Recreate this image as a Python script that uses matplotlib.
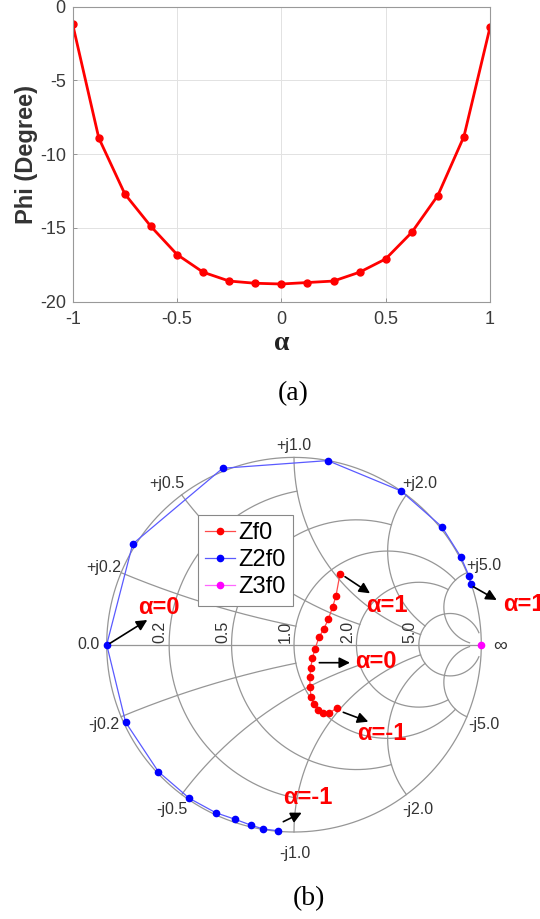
import numpy as np
import matplotlib
matplotlib.use('Agg')
import matplotlib.pyplot as plt

plt.rcParams['font.family'] = ['Liberation Sans', 'DejaVu Sans']
plt.rcParams['axes.unicode_minus'] = False

# ---------------- data ----------------
alpha = [-1, -0.875, -0.75, -0.625, -0.5, -0.375, -0.25, -0.125, 0,
         0.125, 0.25, 0.375, 0.5, 0.625, 0.75, 0.875, 1]
phi = [-1.2, -8.9, -12.7, -14.9, -16.8, -18.0, -18.6, -18.75, -18.8,
       -18.7, -18.6, -18.0, -17.1, -15.3, -12.8, -8.8, -1.4]

x_ticks = [-1, -0.5, 0, 0.5, 1]
x_ticklabels = ['-1', '-0.5', '0', '0.5', '1']
y_ticks = [-20, -15, -10, -5, 0]
y_ticklabels = ['-20', '-15', '-10', '-5', '0']

# reflection coefficients on the Smith chart (alpha = -1 ... 1)
zf0_re = [0.228, 0.187, 0.156, 0.130, 0.107, 0.091, 0.085, 0.085, 0.089,
          0.098, 0.112, 0.133, 0.160, 0.183, 0.206, 0.224, 0.245]
zf0_im = [-0.337, -0.367, -0.367, -0.349, -0.319, -0.278, -0.228, -0.171, -0.123,
          -0.073, -0.023, 0.039, 0.086, 0.136, 0.200, 0.260, 0.375]
z2f0_re = [-0.087, -0.164, -0.231, -0.315, -0.418, -0.559, -0.724, -0.899, -1.0,
           -0.861, -0.381, 0.180, 0.571, 0.789, 0.890, 0.934, 0.945]
z2f0_im = [-0.993, -0.984, -0.963, -0.932, -0.897, -0.820, -0.678, -0.414, 0.0,
           0.538, 0.942, 0.983, 0.821, 0.630, 0.470, 0.368, 0.322]
z3f0_re = [1.0]
z3f0_im = [0.0]

grid_values = [0.2, 0.5, 1.0, 2.0, 5.0]
grid_limits = [1.0, 2.0, 5.0, 5.0, 30.0]
r_labels = ['0.2', '0.5', '1.0', '2.0', '5.0']
x_labels_pos = ['+j0.2', '+j0.5', '+j1.0', '+j2.0', '+j5.0']
x_labels_neg = ['-j0.2', '-j0.5', '-j1.0', '-j2.0', '-j5.0']

# ---------------- figure ----------------
W, H = 540, 919
fig = plt.figure(figsize=(W / 100, H / 100), dpi=100)

# ---- (a) ----
ax1 = fig.add_axes([72.7 / W, 1 - 301.7 / H, 417.3 / W, 295 / H])
ax1.plot(alpha, phi, '-o', color='red', lw=2, ms=5, mec='red', mfc='red')
ax1.set_xlim(-1, 1)
ax1.set_ylim(-20, 0)
ax1.set_xticks(x_ticks)
ax1.set_xticklabels(x_ticklabels)
ax1.set_yticks(y_ticks)
ax1.set_yticklabels(y_ticklabels)
ax1.tick_params(direction='in', length=3, width=0.6, labelsize=13,
                colors='#888888', labelcolor='#3a3a3a')
ax1.tick_params(axis='x', pad=7)
ax1.tick_params(axis='y', pad=5)
ax1.grid(True, color='#e2e2e2', lw=0.7)
ax1.set_axisbelow(True)
for s in ax1.spines.values():
    s.set_color('#999999')
    s.set_linewidth(0.8)
ax1.set_ylabel('Phi (Degree)', fontsize=17, fontweight='bold', color='#333333', labelpad=1)
ax1.set_xlabel('α', fontsize=20, fontweight='bold', family=['Liberation Serif', 'DejaVu Serif'],
               color='#222222', labelpad=2)
fig.text(293 / W, 1 - 394 / H, '(a)', ha='center', va='center', fontsize=20,
         family=['Liberation Serif', 'DejaVu Serif'])

# ---- (b) Smith chart ----
cx, cy, R = 294.0, 644.7, 187.3
top_px = 430.0
ax2 = fig.add_axes([0, 0, 1, (H - top_px) / H])
ax2.set_xlim((0 - cx) / R, (W - cx) / R)
ax2.set_ylim((cy - H) / R, (cy - top_px) / R)
ax2.axis('off')

gcol = '#969696'
glw = 0.9

def gamma(z):
    return (z - 1) / (z + 1)

# outer circle and real axis
t = np.linspace(0, 2 * np.pi, 800)
ax2.plot(np.cos(t), np.sin(t), color=gcol, lw=glw, zorder=1)
ax2.plot([-1, 1], [0, 0], color=gcol, lw=glw, zorder=1)

for v, lim in zip(grid_values, grid_limits):
    # resistance circle r = v, |x| <= lim
    xs = np.linspace(-lim, lim, 3000)
    g = gamma(v + 1j * xs)
    ax2.plot(g.real, g.imag, color=gcol, lw=glw, zorder=1)
    # reactance arcs x = +-v, 0 <= r <= lim
    rs = np.concatenate([np.linspace(0, 1, 500), np.linspace(1, lim, 3000)])
    for sgn in (1, -1):
        g = gamma(rs + 1j * sgn * v)
        ax2.plot(g.real, g.imag, color=gcol, lw=glw, zorder=1)

lab_kw = dict(fontsize=11.5, color='#333333', ha='center', va='center',
              textcoords='offset pixels', annotation_clip=False)
pos_off = [(-17.5, 5.5), (-15, 11.7), (0, 12), (13, 11.7), (17, 7.5)]
neg_off = [(-17.5, -8), (-9.5, -15.3), (1, -21.7), (11.5, -15.3), (17, -8)]
for v, rl, lp, ln, op, on in zip(grid_values, r_labels, x_labels_pos, x_labels_neg, pos_off, neg_off):
    gp = gamma(1j * v)
    gn = gamma(-1j * v)
    ax2.annotate(lp, (gp.real, gp.imag), xytext=op, **lab_kw)
    ax2.annotate(ln, (gn.real, gn.imag), xytext=on, **lab_kw)
    gr = gamma(v)
    ax2.annotate(rl, (gr.real, 0), xytext=(-9, 13), rotation=90, **lab_kw)
ax2.annotate('0.0', (-1, 0), xytext=(-18.4, 0), **lab_kw)
ax2.annotate('∞', (1, 0), xytext=(19, -2), **dict(lab_kw, fontsize=14))

# data
ax2.plot(zf0_re, zf0_im, '-', color='#ff4a4a', lw=0.9, zorder=3)
ax2.plot(zf0_re, zf0_im, 'o', color='red', ms=4.5, zorder=4)
ax2.plot(z2f0_re, z2f0_im, '-', color='#5a5aff', lw=0.9, zorder=3)
ax2.plot(z2f0_re, z2f0_im, 'o', color='blue', ms=4.5, zorder=4)
ax2.plot(z3f0_re, z3f0_im, 'o', color='magenta', ms=4.5, zorder=4)

# legend proxies
h1, = ax2.plot([], [], '-o', color='#ff4a4a', lw=0.9, ms=4.5, mfc='red', mec='red', label='Zf0')
h2, = ax2.plot([], [], '-o', color='#5a5aff', lw=0.9, ms=4.5, mfc='blue', mec='blue', label='Z2f0')
h3, = ax2.plot([], [], '-o', color='#ff66ff', lw=0.9, ms=4.5, mfc='magenta', mec='magenta', label='Z3f0')

leg = ax2.legend(handles=[h1, h2, h3], loc='upper left',
                 bbox_to_anchor=(198.3 / W, 1 - 515 / H),
                 bbox_transform=fig.transFigure, borderaxespad=0, fontsize=17,
                 handlelength=1.25, handletextpad=0.15, labelspacing=0.22,
                 borderpad=0.3, fancybox=False, framealpha=1, edgecolor='#888888')
leg.get_frame().set_linewidth(0.8)
leg.set_zorder(5)

# annotations (arrows + red labels)
def px2g(px, py):
    return ((px - cx) / R, (cy - py) / R)

arrows = [((110, 643.3), (147.3, 620)),
          ((345, 576.7), (370, 593.3)),
          ((319.3, 662.7), (350, 662.7)),
          ((343.3, 712.3), (368.3, 721.7)),
          ((473.3, 586.7), (496.7, 600)),
          ((283.3, 821.7), (301.7, 812.7))]
for tail, head in arrows:
    ax2.annotate('', xy=px2g(*head), xytext=px2g(*tail),
                 arrowprops=dict(arrowstyle='-|>', color='black', lw=1.2,
                                 mutation_scale=16, shrinkA=0, shrinkB=0),
                 annotation_clip=False, zorder=6)

# the right-most "α=1" runs past the right edge in the reference as well
labels = [('α=0', (138, 607.3)), ('α=1', (366, 605.7)), ('α=0', (355, 661.7)),
          ('α=-1', (356.7, 734)), ('α=1', (502.7, 605)), ('α=-1', (283, 797.3))]
for txt, (px, py) in labels:
    ax2.text(*px2g(px, py), txt, color='red', fontsize=17, fontweight='bold',
             ha='left', va='center', zorder=6, clip_on=False)

fig.text(309 / W, 1 - 899 / H, '(b)', ha='center', va='center', fontsize=20,
         family=['Liberation Serif', 'DejaVu Serif'])

fig.savefig('out.png', dpi=100)
